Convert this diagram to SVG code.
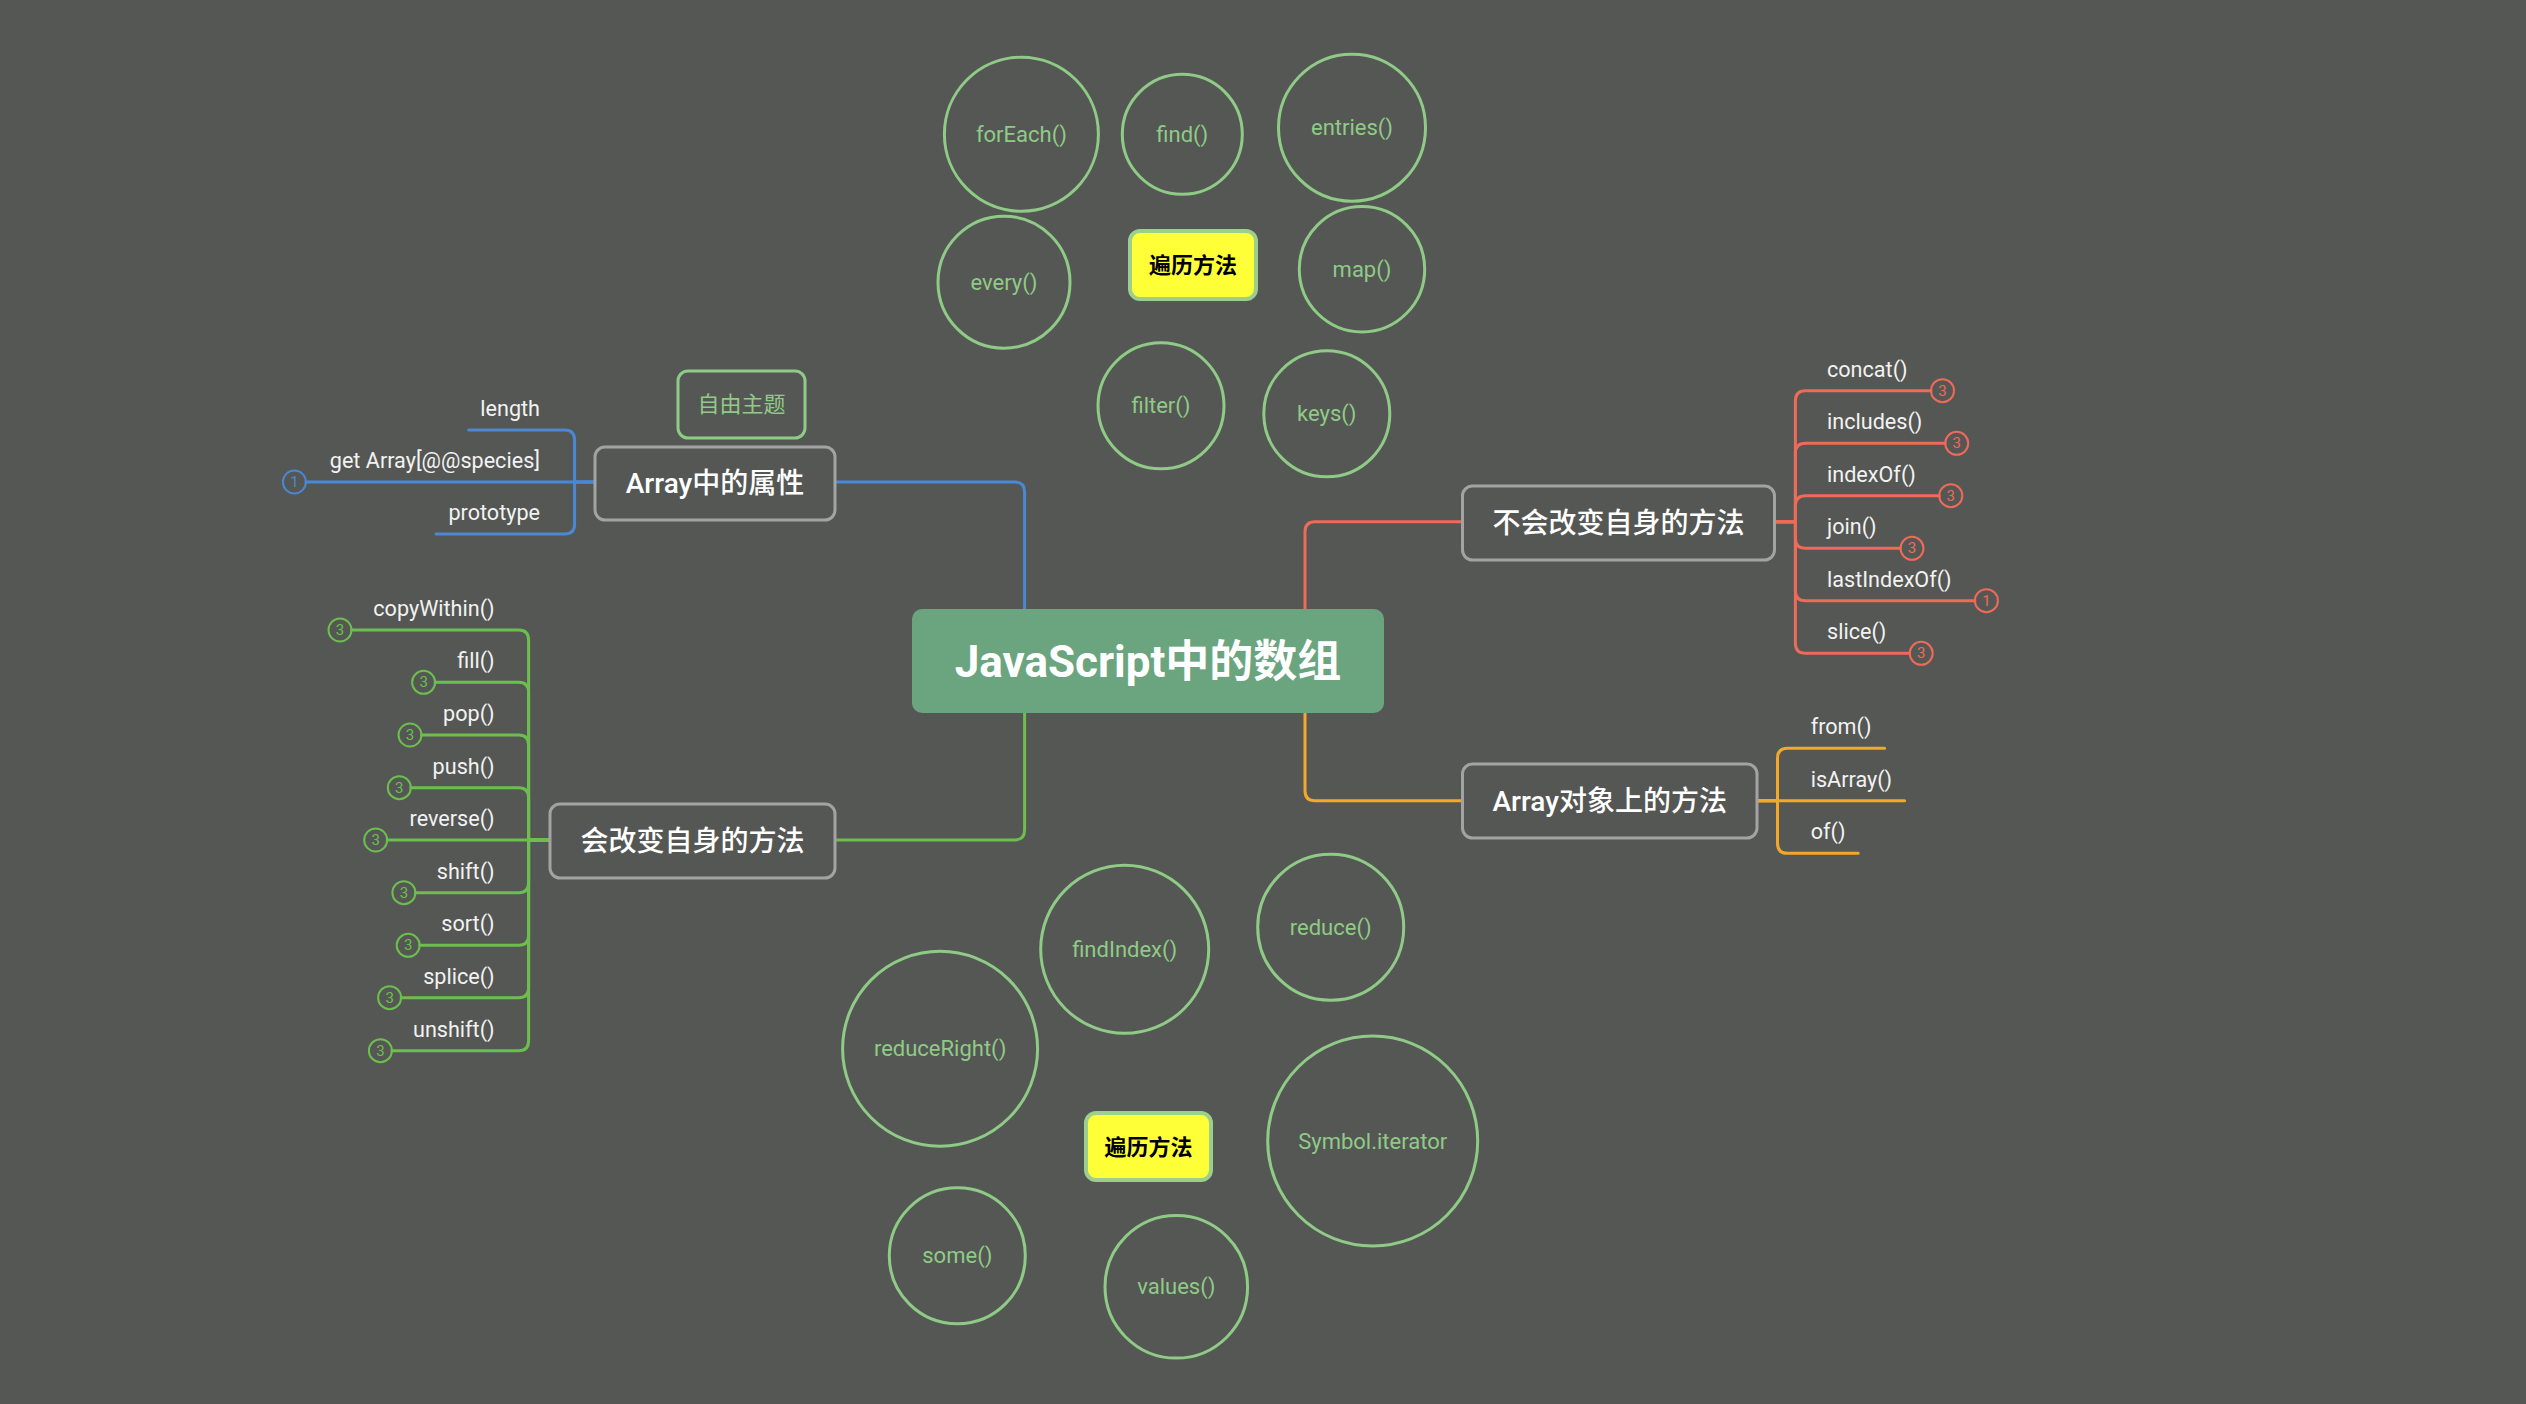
<svg xmlns="http://www.w3.org/2000/svg" width="2526" height="1404" viewBox="0 0 2526 1404">
<style>
text{font-family:Roboto,"Noto Sans CJK SC",sans-serif}
.bub{fill:none;stroke:#8fcb87;stroke-width:3}
.bt{fill:#8fcb87;font-size:22px;text-anchor:middle}
.yb{fill:#ffff38;stroke:#9ccf8e;stroke-width:4}
.yt{fill:#000;font-size:22px;font-weight:bold;text-anchor:middle}
.l1{fill:#555754;stroke:#a3a3a3;stroke-width:3}
.l1t{fill:#fff;font-size:28px;font-weight:500;text-anchor:middle}
.l2{fill:#f2f2f2;font-size:21.6px}
.r{text-anchor:end}
.c{fill:none;stroke-width:3;stroke-linecap:round}
.blue{stroke:#4a88d4}.green{stroke:#6cbf4e}.red{stroke:#ee6a59}.orange{stroke:#f4a82a}
.mk{fill:none;stroke-width:2}
.mt{font-size:15px;text-anchor:middle}
</style>
<rect width="2526" height="1404" fill="#555754"/>
<g id="connectors">
<path class="c blue" d="M835 482H1014.6Q1024.6 482 1024.6 492V609"/>
<path class="c green" d="M835 840H1014.6Q1024.6 840 1024.6 830V713"/>
<path class="c red" d="M1305 609V531.7Q1305 521.7 1315 521.7H1462"/>
<path class="c orange" d="M1305 713V790.7Q1305 800.7 1315 800.7H1462"/>
<path class="c blue" d="M595 482H574.6V440Q574.6 430 564.6 430H468.6"/>
<path class="c blue" d="M595 482H306"/>
<path class="c blue" d="M595 482H574.6V524Q574.6 534 564.6 534H436"/>
<path class="c green" d="M550 840H528.6V640Q528.6 630 518.6 630H351.5"/>
<path class="c green" d="M550 840H528.6V692.3Q528.6 682.3 518.6 682.3H435.1"/>
<path class="c green" d="M550 840H528.6V745Q528.6 735 518.6 735H421.5"/>
<path class="c green" d="M550 840H528.6V797.7Q528.6 787.7 518.6 787.7H410.8"/>
<path class="c green" d="M550 840H387.2"/>
<path class="c green" d="M550 840H528.6V882.7Q528.6 892.7 518.6 892.7H415.4"/>
<path class="c green" d="M550 840H528.6V935.3Q528.6 945.3 518.6 945.3H419.7"/>
<path class="c green" d="M550 840H528.6V987.7Q528.6 997.7 518.6 997.7H401.1"/>
<path class="c green" d="M550 840H528.6V1040.7Q528.6 1050.7 518.6 1050.7H391.9"/>
<path class="c red" d="M1774.5 521.7H1795.4V400.7Q1795.4 390.7 1805.4 390.7H1931"/>
<path class="c red" d="M1774.5 521.7H1795.4V453.3Q1795.4 443.3 1805.4 443.3H1945.2"/>
<path class="c red" d="M1774.5 521.7H1795.4V505.7Q1795.4 495.7 1805.4 495.7H1939.3"/>
<path class="c red" d="M1774.5 521.7H1795.4V538.3Q1795.4 548.3 1805.4 548.3H1900.5"/>
<path class="c red" d="M1774.5 521.7H1795.4V590.7Q1795.4 600.7 1805.4 600.7H1974.9"/>
<path class="c red" d="M1774.5 521.7H1795.4V643.3Q1795.4 653.3 1805.4 653.3H1909.7"/>
<path class="c orange" d="M1757 800.7H1777.5V758.3Q1777.5 748.3 1787.5 748.3H1884.6"/>
<path class="c orange" d="M1757 800.7H1904.6"/>
<path class="c orange" d="M1757 800.7H1777.5V843.3Q1777.5 853.3 1787.5 853.3H1858.2"/>
</g>
<g id="root">
<rect x="912" y="609" width="472" height="104" rx="10" fill="#6aa57f"/>
<text x="1148" y="677" fill="#fff" font-size="44" font-weight="bold" text-anchor="middle">JavaScript中的数组</text>
</g>
<g id="props">
<rect class="l1" x="595" y="447" width="240" height="73" rx="10"/>
<text class="l1t" x="715" y="493">Array中的属性</text>
</g>
<g id="mutating">
<rect class="l1" x="550" y="804" width="285" height="74" rx="10"/>
<text class="l1t" x="692.5" y="851">会改变自身的方法</text>
</g>
<g id="nonmutating">
<rect class="l1" x="1462.5" y="486" width="312" height="74" rx="10"/>
<text class="l1t" x="1618.5" y="533">不会改变自身的方法</text>
</g>
<g id="static">
<rect class="l1" x="1462.5" y="764" width="294.5" height="74" rx="10"/>
<text class="l1t" x="1609.7" y="811">Array对象上的方法</text>
</g>
<g id="free">
<rect x="678" y="371" width="127" height="67" rx="10" fill="none" stroke="#8fcb87" stroke-width="3"/>
<text class="bt" x="741.5" y="412">自由主题</text>
</g>
<g id="props-children">
<text class="l2 r" x="540" y="416">length</text>
<text class="l2 r" x="540" y="468">get Array[@@species]</text>
<text class="l2 r" x="540" y="520">prototype</text>
<circle class="mk blue" cx="294.4" cy="482" r="11.5"/>
<text class="mt" x="294.4" y="487" fill="#4a88d4">1</text>
</g>
<g id="mutating-children">
<text class="l2 r" x="494.6" y="616">copyWithin()</text>
<text class="l2 r" x="494.6" y="668.3">fill()</text>
<text class="l2 r" x="494.6" y="721">pop()</text>
<text class="l2 r" x="494.6" y="773.7">push()</text>
<text class="l2 r" x="494.6" y="826">reverse()</text>
<text class="l2 r" x="494.6" y="878.7">shift()</text>
<text class="l2 r" x="494.6" y="931.3">sort()</text>
<text class="l2 r" x="494.6" y="983.7">splice()</text>
<text class="l2 r" x="494.6" y="1036.7">unshift()</text>
<g fill="#6cbf4e">
<circle class="mk green" cx="340" cy="630" r="11.5"/><text class="mt" x="340" y="635">3</text>
<circle class="mk green" cx="423.6" cy="682.3" r="11.5"/><text class="mt" x="423.6" y="687.3">3</text>
<circle class="mk green" cx="410" cy="735" r="11.5"/><text class="mt" x="410" y="740">3</text>
<circle class="mk green" cx="399.3" cy="787.7" r="11.5"/><text class="mt" x="399.3" y="792.7">3</text>
<circle class="mk green" cx="375.7" cy="840" r="11.5"/><text class="mt" x="375.7" y="845">3</text>
<circle class="mk green" cx="403.9" cy="892.7" r="11.5"/><text class="mt" x="403.9" y="897.7">3</text>
<circle class="mk green" cx="408.2" cy="945.3" r="11.5"/><text class="mt" x="408.2" y="950.3">3</text>
<circle class="mk green" cx="389.6" cy="997.7" r="11.5"/><text class="mt" x="389.6" y="1002.7">3</text>
<circle class="mk green" cx="380.4" cy="1050.7" r="11.5"/><text class="mt" x="380.4" y="1055.7">3</text>
</g>
</g>
<g id="nonmutating-children">
<text class="l2" x="1827" y="376.7">concat()</text>
<text class="l2" x="1827" y="429.3">includes()</text>
<text class="l2" x="1827" y="481.7">indexOf()</text>
<text class="l2" x="1827" y="534.3">join()</text>
<text class="l2" x="1827" y="586.7">lastIndexOf()</text>
<text class="l2" x="1827" y="639.3">slice()</text>
<g fill="#ee6a59">
<circle class="mk red" cx="1942.5" cy="390.7" r="11.5"/><text class="mt" x="1942.5" y="395.7">3</text>
<circle class="mk red" cx="1956.7" cy="443.3" r="11.5"/><text class="mt" x="1956.7" y="448.3">3</text>
<circle class="mk red" cx="1950.8" cy="495.7" r="11.5"/><text class="mt" x="1950.8" y="500.7">3</text>
<circle class="mk red" cx="1912" cy="548.3" r="11.5"/><text class="mt" x="1912" y="553.3">3</text>
<circle class="mk red" cx="1986.4" cy="600.7" r="11.5"/><text class="mt" x="1986.4" y="605.7">1</text>
<circle class="mk red" cx="1921.2" cy="653.3" r="11.5"/><text class="mt" x="1921.2" y="658.3">3</text>
</g>
</g>
<g id="static-children">
<text class="l2" x="1810.7" y="734.3">from()</text>
<text class="l2" x="1810.7" y="786.7">isArray()</text>
<text class="l2" x="1810.7" y="839.3">of()</text>
</g>
<g id="iteration-top">
<circle class="bub" cx="1021.4" cy="134.2" r="77"/><text class="bt" x="1021.4" y="141.5">forEach()</text>
<circle class="bub" cx="1182.3" cy="134.3" r="60"/><text class="bt" x="1182.3" y="141.5">find()</text>
<circle class="bub" cx="1352" cy="127.7" r="73.5"/><text class="bt" x="1352" y="135">entries()</text>
<circle class="bub" cx="1004" cy="282.2" r="66"/><text class="bt" x="1004" y="289.5">every()</text>
<circle class="bub" cx="1362" cy="269.2" r="62.7"/><text class="bt" x="1362" y="276.5">map()</text>
<circle class="bub" cx="1161" cy="405.8" r="63"/><text class="bt" x="1161" y="413">filter()</text>
<circle class="bub" cx="1326.8" cy="413.8" r="63"/><text class="bt" x="1326.8" y="421">keys()</text>
<rect class="yb" x="1130" y="231" width="126" height="68" rx="10"/>
<text class="yt" x="1193" y="273">遍历方法</text>
</g>
<g id="iteration-bottom">
<circle class="bub" cx="1124.7" cy="949.3" r="84"/><text class="bt" x="1124.7" y="956.5">findIndex()</text>
<circle class="bub" cx="1330.7" cy="927.3" r="73"/><text class="bt" x="1330.7" y="934.5">reduce()</text>
<circle class="bub" cx="940.1" cy="1048.8" r="97.5"/><text class="bt" x="940.1" y="1056">reduceRight()</text>
<circle class="bub" cx="1372.7" cy="1141" r="105"/><text class="bt" x="1372.7" y="1148.5">Symbol.iterator</text>
<circle class="bub" cx="957.3" cy="1255.8" r="68"/><text class="bt" x="957.3" y="1263">some()</text>
<circle class="bub" cx="1176.3" cy="1286.8" r="71.3"/><text class="bt" x="1176.3" y="1294">values()</text>
<rect class="yb" x="1086" y="1113" width="125" height="67" rx="10"/>
<text class="yt" x="1148.5" y="1154.5">遍历方法</text>
</g>
</svg>
